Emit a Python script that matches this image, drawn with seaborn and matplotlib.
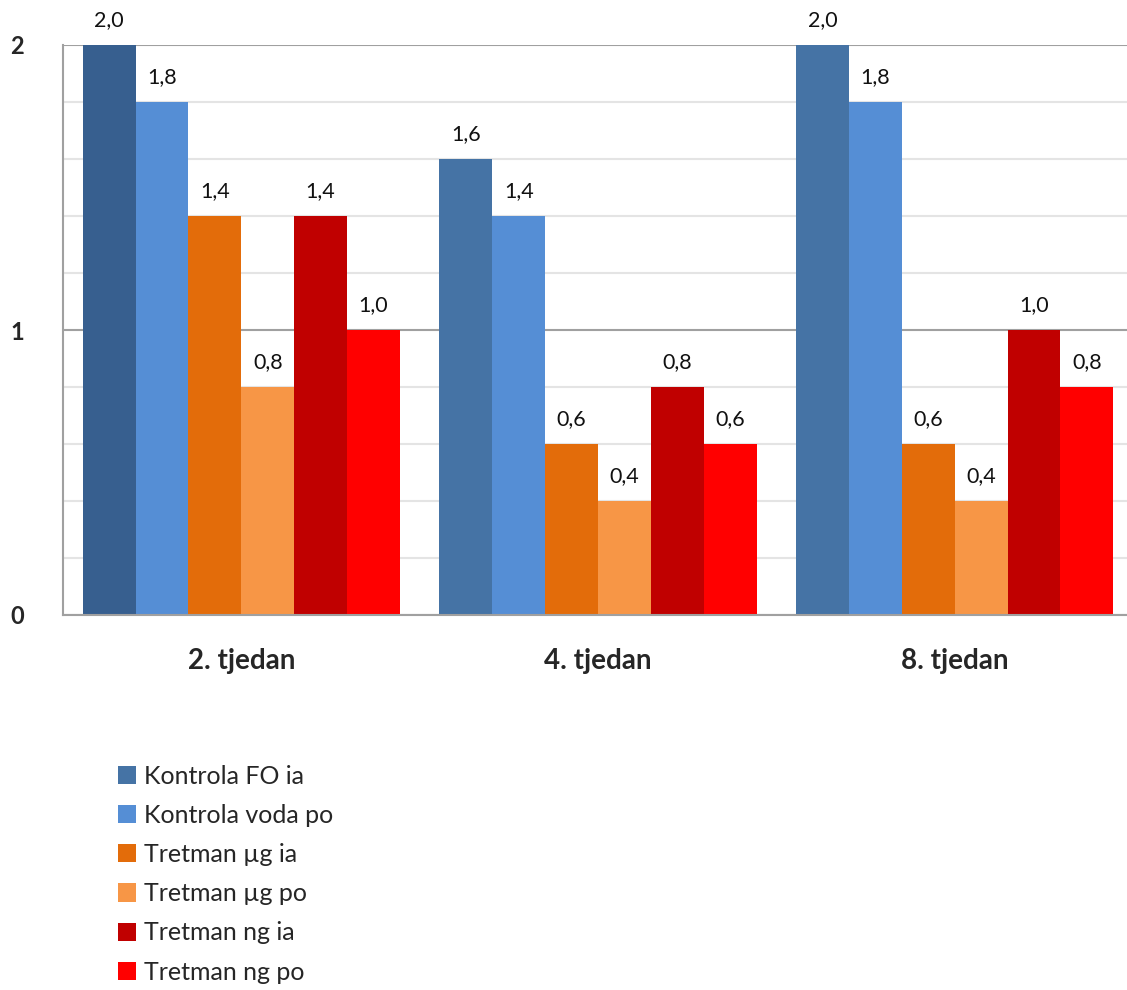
import pandas as pd
import seaborn as sns
import matplotlib.pyplot as plt
from matplotlib.patches import Patch
from matplotlib.ticker import MultipleLocator

weeks = ["2. tjedan", "4. tjedan", "8. tjedan"]
series = ["Kontrola FO ia", "Kontrola voda po", "Tretman µg ia",
          "Tretman µg po", "Tretman ng ia", "Tretman ng po"]
kontrola_fo_ia = [2.0, 1.6, 2.0]
kontrola_voda_po = [1.8, 1.4, 1.8]
tretman_ug_ia = [1.4, 0.6, 0.6]
tretman_ug_po = [0.8, 0.4, 0.4]
tretman_ng_ia = [1.4, 0.8, 1.0]
tretman_ng_po = [1.0, 0.6, 0.8]

colors = ["#4573A5", "#558ED5", "#E36C0A", "#F79646", "#C00000", "#FF0000"]

values = [kontrola_fo_ia, kontrola_voda_po, tretman_ug_ia,
          tretman_ug_po, tretman_ng_ia, tretman_ng_po]
rows = []
for name, vals in zip(series, values):
    for w, v in zip(weeks, vals):
        rows.append({"Tjedan": w, "Skupina": name, "Vrijednost": v})
df = pd.DataFrame(rows)

sns.set_style("white")
plt.rcParams["font.family"] = ["Lato", "DejaVu Sans"]

fig = plt.figure(figsize=(11.27, 9.9), dpi=100)
ax = fig.add_axes([63 / 1127, 1 - 615 / 990, 1 - 63 / 1127, 570 / 990])

sns.barplot(data=df, x="Tjedan", y="Vrijednost", hue="Skupina",
            order=weeks, hue_order=series, palette=colors,
            width=0.889, saturation=1, legend=False, linewidth=0, ax=ax)

# first bar of the first group is a bit darker in the original
ax.containers[0].patches[0].set_facecolor("#375F8F")

for c in ax.containers:
    ax.bar_label(c, labels=[f"{b.get_height():.1f}".replace(".", ",") for b in c],
                 padding=11, fontsize=15.5, color="#111111")

ax.set_ylim(0, 2)
ax.set_xlim(-0.5, 2.483)
ax.yaxis.set_major_locator(MultipleLocator(1))
ax.yaxis.set_minor_locator(MultipleLocator(0.2))
ax.grid(which="major", axis="y", color="#A0A0A0", linewidth=1.5)
ax.grid(which="minor", axis="y", color="#E4E4E4", linewidth=1.5)
ax.set_axisbelow(True)
ax.tick_params(axis="y", which="both", length=0, pad=28, labelsize=17)
ax.tick_params(axis="x", length=0, pad=24, labelsize=20)
for lab in ax.get_yticklabels() + ax.get_xticklabels():
    lab.set_fontweight("bold")
ax.set_xlabel("")
ax.set_ylabel("")
for s in ["top", "right"]:
    ax.spines[s].set_visible(False)
for s in ["left", "bottom"]:
    ax.spines[s].set_color("#A0A0A0")
    ax.spines[s].set_linewidth(1.5)

handles = [Patch(facecolor=c, edgecolor="none") for c in colors]
fig.legend(handles, series, loc="upper left", bbox_to_anchor=(105 / 1127, 1 - 752 / 990),
           frameon=False, fontsize=18, handlelength=0.75, handleheight=0.75,
           handletextpad=0.3, labelspacing=0.65, borderpad=0)

fig.savefig("out.png", dpi=100)
